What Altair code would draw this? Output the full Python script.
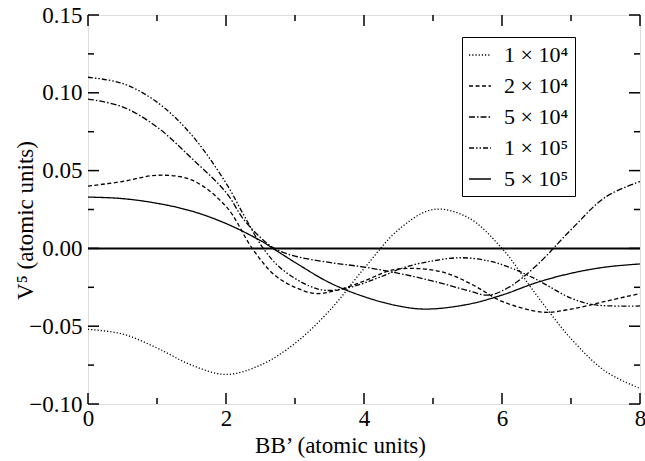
import altair as alt
import pandas as pd

# ---- data ----
series_labels = ["1 × 10⁴", "2 × 10⁴", "5 × 10⁴", "1 × 10⁵", "5 × 10⁵"]

x_1e4 = [0, 0.5, 1, 1.5, 2, 2.5, 3, 3.5, 4, 4.5, 5, 5.5, 6, 6.5, 7, 7.5, 8]
y_1e4 = [-0.052, -0.055, -0.064, -0.075, -0.081, -0.075, -0.061, -0.040, -0.013, 0.012,
         0.025, 0.020, 0.000, -0.030, -0.058, -0.079, -0.090]

x_2e4 = [0, 0.5, 1, 1.5, 2, 2.38, 2.7, 3.0, 3.3, 3.6, 4, 4.4, 4.8, 5.2, 5.6, 6, 6.6, 7, 7.5, 8]
y_2e4 = [0.040, 0.043, 0.047, 0.044, 0.027, 0.000, -0.017, -0.025, -0.029, -0.027, -0.021,
         -0.014, -0.013, -0.016, -0.024, -0.034, -0.041, -0.039, -0.034, -0.029]

x_5e4 = [0, 0.5, 1, 1.5, 2, 2.25, 2.5, 2.7, 3, 3.5, 4, 4.5, 5, 5.5, 5.8, 6.1, 6.5, 7, 7.5, 8]
y_5e4 = [0.096, 0.091, 0.078, 0.058, 0.036, 0.019, 0.007, 0.000, -0.005, -0.009, -0.012,
         -0.016, -0.021, -0.027, -0.030, -0.025, -0.011, 0.012, 0.033, 0.043]

x_1e5 = [0, 0.5, 1, 1.5, 2, 2.25, 2.54, 2.8, 3.2, 3.45, 3.8, 4.2, 4.6, 5, 5.4, 5.8, 6.1, 6.5, 7, 7.3, 7.6, 8]
y_1e5 = [0.110, 0.106, 0.094, 0.073, 0.042, 0.022, 0.000, -0.013, -0.024, -0.027, -0.025,
         -0.019, -0.012, -0.008, -0.006, -0.008, -0.012, -0.020, -0.032, -0.036, -0.037, -0.037]

x_5e5 = [0, 0.5, 1, 1.5, 2, 2.5, 2.68, 3, 3.5, 4, 4.5, 4.9, 5.5, 6, 6.5, 7, 7.5, 8]
y_5e5 = [0.033, 0.032, 0.029, 0.024, 0.016, 0.005, 0.000, -0.009, -0.022, -0.031, -0.037,
         -0.039, -0.036, -0.030, -0.022, -0.016, -0.012, -0.010]

x_major = [0, 2, 4, 6, 8]
x_minor = [1, 3, 5, 7]
y_major = [-0.10, -0.05, 0.00, 0.05, 0.10, 0.15]
y_minor = [-0.075, -0.025, 0.025, 0.075, 0.125]

# ---- styling ----
dash_patterns = [[1.2, 2], [4, 2.5], [6, 2, 1.5, 2], [5, 2, 1.5, 2, 1.5, 2], [1, 0]]
stroke_widths = [1.3, 1.3, 1.3, 1.3, 2.6]
FONT = "Liberation Serif"
W, H = 552, 389

rows = []
for lab, xs, ys in zip(series_labels,
                       [x_1e4, x_2e4, x_5e4, x_1e5, x_5e5],
                       [y_1e4, y_2e4, y_5e4, y_1e5, y_5e5]):
    for xv, yv in zip(xs, ys):
        rows.append({"series": lab, "x": xv, "y": yv})
df = pd.DataFrame(rows)

xscale = alt.Scale(domain=[0, 8], nice=False, zero=False)
yscale = alt.Scale(domain=[-0.10, 0.15], nice=False, zero=False)

xaxis = alt.Axis(
    values=x_major, format="d", title="BB’ (atomic units)", grid=False, ticks=False,
    domain=False, labelFont=FONT, labelFontSize=23, labelColor="black", labelPadding=3,
    titleFont=FONT, titleFontSize=23, titleFontWeight="normal", titleColor="black",
    titleX=252, titleY=48, titleBaseline="alphabetic", titleAlign="center",
    labelFlush=False)
yaxis = alt.Axis(
    values=y_major, format=".2f", title="V⁵ (atomic units)", grid=False, ticks=False,
    domain=False, labelFont=FONT, labelFontSize=23, labelColor="black", labelPadding=6,
    titleFont=FONT, titleFontSize=23, titleFontWeight="normal", titleColor="black",
    titleX=-56, titleY=205, titleBaseline="alphabetic", titleAlign="center", titleAngle=270,
    labelFlush=False)

legend = alt.Legend(
    title=None, orient="none", legendX=374, legendY=22,
    strokeColor="black", padding=6, fillColor="white",
    labelFont=FONT, labelFontSize=22, labelColor="black", labelOffset=12,
    symbolType="stroke", symbolSize=480, symbolStrokeColor="black",
    rowPadding=8, labelLimit=200,
)

lines = alt.Chart(df).mark_line(color="black", interpolate="catmull-rom", clip=True).encode(
    x=alt.X("x:Q", scale=xscale, axis=xaxis),
    y=alt.Y("y:Q", scale=yscale, axis=yaxis),
    strokeDash=alt.StrokeDash("series:N", sort=series_labels,
                              scale=alt.Scale(domain=series_labels, range=dash_patterns),
                              legend=legend),
    strokeWidth=alt.StrokeWidth("series:O", sort=series_labels,
                                scale=alt.Scale(domain=series_labels, range=stroke_widths),
                                legend=legend),
)

zero = alt.Chart(pd.DataFrame({"v": [0.0]})).mark_rule(color="black", strokeWidth=2).encode(
    y=alt.Y("v:Q", scale=yscale, axis=yaxis))


def xticks(vals, length):
    d = pd.DataFrame({"v": vals})
    bottom = alt.Chart(d).mark_rule(color="black", strokeWidth=1.5).encode(
        x=alt.X("v:Q", scale=xscale, axis=xaxis), y=alt.value(H), y2=alt.value(H - length))
    top = alt.Chart(d).mark_rule(color="black", strokeWidth=1.5).encode(
        x=alt.X("v:Q", scale=xscale, axis=xaxis), y=alt.value(0), y2=alt.value(length))
    return [bottom, top]


def yticks(vals, length):
    d = pd.DataFrame({"v": vals})
    left = alt.Chart(d).mark_rule(color="black", strokeWidth=1.5).encode(
        y=alt.Y("v:Q", scale=yscale, axis=yaxis), x=alt.value(0), x2=alt.value(length))
    right = alt.Chart(d).mark_rule(color="black", strokeWidth=1.5).encode(
        y=alt.Y("v:Q", scale=yscale, axis=yaxis), x=alt.value(W), x2=alt.value(W - length))
    return [left, right]


layers = [lines, zero] + xticks(x_major, 11) + xticks(x_minor, 6) + yticks(y_major, 11) + yticks(y_minor, 6)

chart = alt.layer(*layers).properties(
    width=W, height=H,
    autosize=alt.AutoSizeParams(type="none"),
    padding={"left": 88, "top": 15, "right": 5, "bottom": 57},
).configure_view(stroke="black", strokeWidth=2).configure(background="white")

chart.save("out.html", embed_options={"renderer": "svg", "actions": False})
